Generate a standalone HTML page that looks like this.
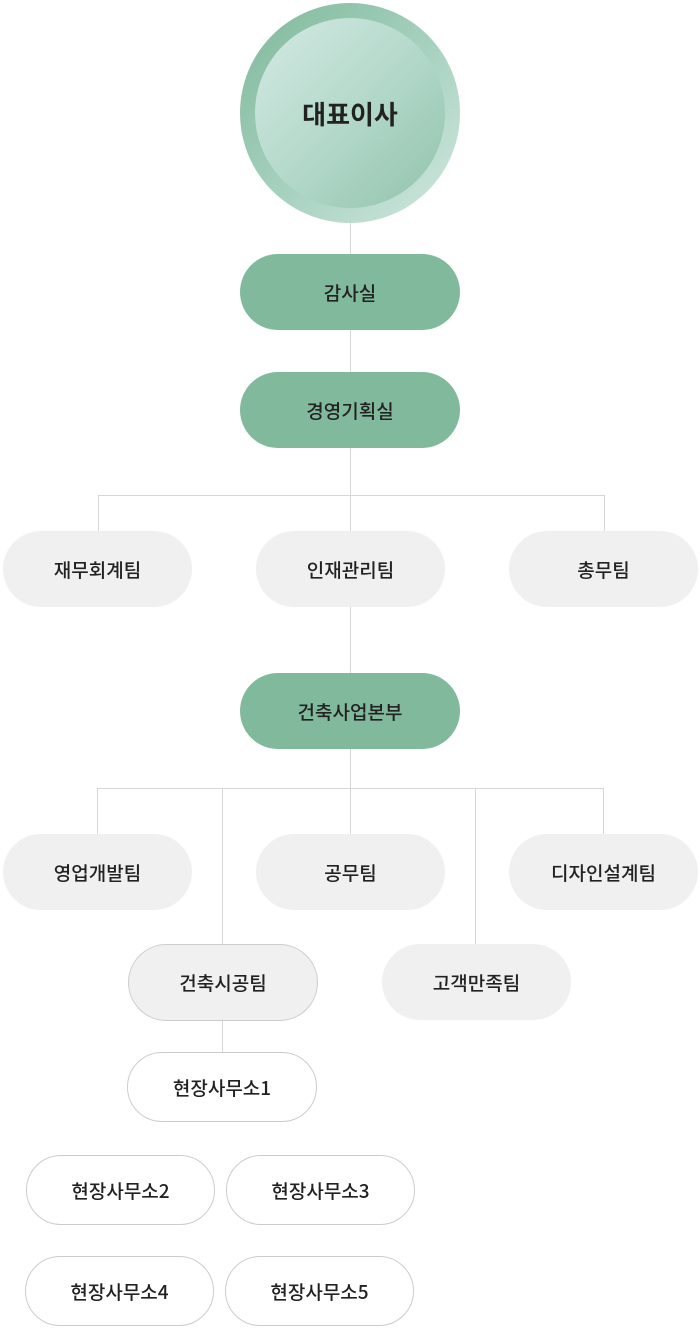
<!DOCTYPE html>
<html><head><meta charset="utf-8"><style>
body{margin:0;width:700px;height:1334px;background:#fff;position:relative;overflow:hidden;font-family:"Noto Sans CJK KR","Liberation Sans",sans-serif;}
.n{position:absolute;display:flex;align-items:center;justify-content:center;border-radius:40px;font-size:19px;color:#222;font-weight:500;box-sizing:border-box;}
.g{background:#80b99c;}
.l{background:#f0f0f0;}
.w{background:#fff;border:1px solid #ccc;}
.b{background:#f0f0f0;border:1px solid #ccc;}
.v{position:absolute;width:1px;background:#d6d6d6;}
.h{position:absolute;height:1px;background:#d6d6d6;}
</style></head><body>
<div class="v" style="left:350px;top:220px;height:530px"></div>
<div class="h" style="left:98px;top:495px;width:507px"></div>
<div class="v" style="left:98px;top:495px;height:36px"></div>
<div class="v" style="left:604px;top:495px;height:36px"></div>
<div class="v" style="left:350px;top:749px;height:85px"></div>
<div class="h" style="left:97px;top:788px;width:507px"></div>
<div class="v" style="left:97px;top:788px;height:46px"></div>
<div class="v" style="left:603px;top:788px;height:46px"></div>
<div class="v" style="left:222px;top:788px;height:264px"></div>
<div class="v" style="left:475px;top:788px;height:156px"></div>

<div style="position:absolute;left:240px;top:3px;width:220px;height:220px;border-radius:50%;background:linear-gradient(135deg,#7fb89b 0%,#a8d2c0 55%,#d2e8e1 100%);"></div>
<div style="position:absolute;left:255px;top:18px;width:190px;height:190px;border-radius:50%;background:linear-gradient(135deg,#d4eae3 0%,#b4d9cb 50%,#91c2aa 100%);display:flex;align-items:center;justify-content:center;font-size:26px;font-weight:700;color:#222;">대표이사</div>

<div class="n g" style="left:240px;top:254px;width:220px;height:76px">감사실</div>
<div class="n g" style="left:240px;top:372px;width:220px;height:76px">경영기획실</div>
<div class="n l" style="left:3px;top:531px;width:189px;height:76px">재무회계팀</div>
<div class="n l" style="left:256px;top:531px;width:189px;height:76px">인재관리팀</div>
<div class="n l" style="left:509px;top:531px;width:189px;height:76px">총무팀</div>
<div class="n g" style="left:240px;top:673px;width:220px;height:76px">건축사업본부</div>
<div class="n l" style="left:3px;top:834px;width:189px;height:76px">영업개발팀</div>
<div class="n l" style="left:256px;top:834px;width:189px;height:76px">공무팀</div>
<div class="n l" style="left:509px;top:834px;width:189px;height:76px">디자인설계팀</div>
<div class="n b" style="left:128px;top:944px;width:190px;height:77px">건축시공팀</div>
<div class="n l" style="left:382px;top:944px;width:189px;height:76px">고객만족팀</div>
<div class="n w" style="left:127px;top:1052px;width:190px;height:70px">현장사무소1</div>
<div class="n w" style="left:26px;top:1155px;width:189px;height:70px">현장사무소2</div>
<div class="n w" style="left:226px;top:1155px;width:189px;height:70px">현장사무소3</div>
<div class="n w" style="left:25px;top:1256px;width:189px;height:70px">현장사무소4</div>
<div class="n w" style="left:225px;top:1256px;width:189px;height:70px">현장사무소5</div>
</body></html>
